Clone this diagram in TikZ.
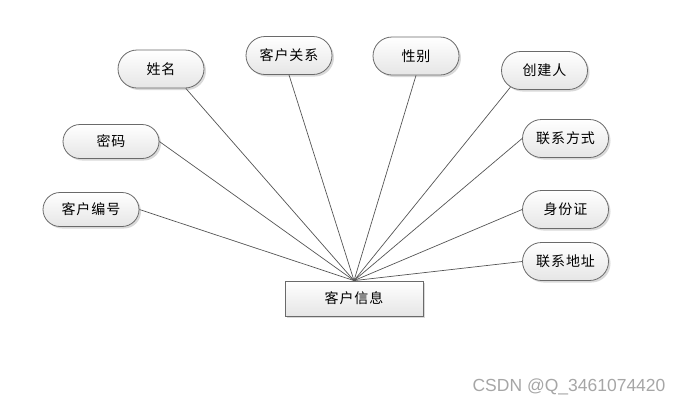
\documentclass[tikz,border=0pt]{standalone}
\usepackage{fontspec}
\newfontfamily\cjk[LetterSpace=7]{Noto Sans CJK SC}
\newfontfamily\wmfont{Liberation Sans}
\usetikzlibrary{shapes.misc,shadows}
\definecolor{edgec}{HTML}{555555}
\definecolor{borderc}{HTML}{6A6A6A}
\tikzset{
  attr/.style={rounded rectangle, draw=borderc, line width=0.8pt,
    top color=white, bottom color=black!10,
    drop shadow={shadow xshift=2pt, shadow yshift=-2pt, opacity=0.25, fill=black!60},
    minimum width=86pt, minimum height=38pt, inner sep=0pt,
    font=\cjk\fontsize{14pt}{16pt}\selectfont},
  entity/.style={rectangle, draw=borderc, line width=0.8pt,
    top color=white, bottom color=black!10,
    drop shadow={shadow xshift=2pt, shadow yshift=-2pt, opacity=0.25, fill=black!60},
    minimum width=138pt, minimum height=35pt, inner sep=0pt,
    font=\cjk\fontsize{14pt}{16pt}\selectfont},
  link/.style={draw=edgec, line width=0.7pt}
}
\begin{document}
\begin{tikzpicture}[x=1pt,y=-1pt]
\useasboundingbox (0,0) rectangle (684,405);
\node[entity] (main) at (354,298.5) {客户信息};
\node[attr] (xm) at (161,69) {姓名};
\node[attr] (khgx) at (289,55.5) {客户关系};
\node[attr] (xb) at (416,56) {性别};
\node[attr] (cjr) at (544.5,70.5) {创建人};
\node[attr, minimum width=96pt, minimum height=34pt] (mm) at (111,141.5) {密码};
\node[attr, minimum width=96pt, minimum height=34pt] (khbh) at (91,209.5) {客户编号};
\node[attr] (lxfs) at (565.5,138.5) {联系方式};
\node[attr] (sfz) at (565.5,209.5) {身份证};
\node[attr] (lxdz) at (565.5,261.5) {联系地址};
\draw[link] (main.north) -- (xm.-38);
\draw[link] (main.north) -- (khgx.south);
\draw[link] (main.north) -- (xb.south);
\draw[link] (main.north) -- (cjr.-154);
\draw[link] (main.north) -- (mm.east);
\draw[link] (main.north) -- (khbh.east);
\draw[link] (main.north) -- (lxfs.west);
\draw[link] (main.north) -- (sfz.west);
\draw[link] (main.north) -- (lxdz.west);
\node[text=black!35, font=\wmfont\fontsize{17.5pt}{20pt}\selectfont, anchor=east] (wm) at (669,387) {CSDN @Q\_3461074420};
\end{tikzpicture}
\end{document}
